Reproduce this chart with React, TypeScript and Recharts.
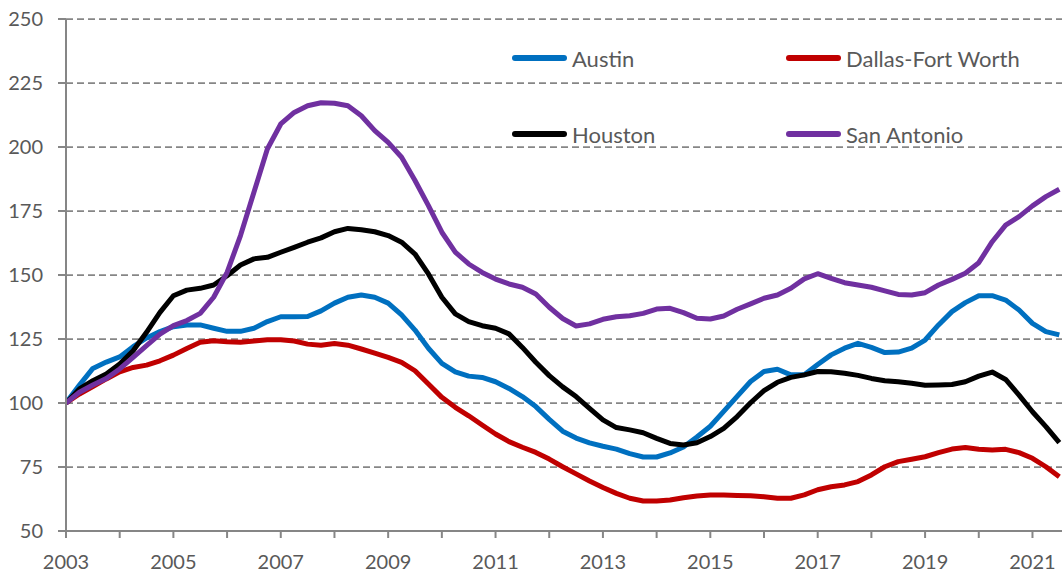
import React from 'react';
import { LineChart, Line, XAxis, YAxis, CartesianGrid } from 'recharts';

// quarterly index, 2003 Q1 = 100
const startYear = 2003;

const austin = [
  100, 107, 113.5, 116, 118, 122, 125.4, 127.9, 129.8, 130.5, 130.5, 129.2, 128, 128, 129.2, 131.8,
  133.7, 133.7, 133.8, 136, 139, 141.3, 142.2, 141.3, 139, 134.4, 128.5, 121.4, 115.5, 112.2, 110.5, 110,
  108.3, 105.7, 102.5, 98.6, 93.6, 89, 86.3, 84.4, 83.1, 82, 80.2, 78.9, 78.9, 80.5, 82.8, 86.7,
  90.9, 96.7, 102.6, 108.4, 112.3, 113.2, 111, 111, 115, 118.8, 121.4, 123.3, 121.7, 119.7, 119.9, 121.4,
  124.6, 130.5, 135.7, 139.2, 141.9, 141.9, 140.2, 136.3, 131.1, 127.9, 126.6,
];

const dallas = [
  100, 103.5, 106.4, 109.4, 112.2, 113.9, 114.8, 116.5, 118.7, 121.3, 123.7, 124.3, 123.9, 123.7, 124.2, 124.7,
  124.7, 124.2, 123, 122.6, 123.2, 122.6, 121.1, 119.5, 117.8, 115.9, 112.6, 107.4, 102.2, 98.3, 95, 91.4,
  87.9, 84.9, 82.7, 80.7, 78.1, 75.1, 72.3, 69.5, 67, 64.7, 62.8, 61.7, 61.7, 62.1, 63, 63.7,
  64.1, 64.1, 63.9, 63.8, 63.4, 62.8, 62.8, 64.1, 66.1, 67.3, 68, 69.3, 71.9, 75.1, 77.1, 78,
  79, 80.6, 82, 82.6, 81.9, 81.6, 81.9, 80.6, 78.4, 75.1, 71.2,
];

const houston = [
  100, 105.5, 108.7, 111.3, 115.2, 120.4, 127.6, 135.4, 141.9, 144.1, 144.8, 146.1, 149.7, 153.9, 156.3, 156.9,
  158.9, 160.8, 162.8, 164.5, 166.9, 168.2, 167.7, 166.9, 165.4, 162.8, 158.2, 150.4, 141.3, 134.8, 131.8, 130.2,
  129.2, 127, 121.7, 115.9, 110.7, 106.3, 102.5, 97.9, 93.4, 90.4, 89.5, 88.4, 86.2, 84.2, 83.6, 84.5,
  86.9, 90.1, 94.7, 100.1, 104.8, 108.1, 110, 111, 112.3, 112.2, 111.6, 110.8, 109.6, 108.7, 108.3, 107.7,
  106.9, 107, 107.2, 108.3, 110.5, 112.1, 109.2, 103.1, 96.6, 90.8, 84.5,
];

const sanAntonio = [
  100, 104.2, 107, 109.6, 113.3, 117.8, 122.4, 126.9, 130.2, 132.2, 135, 141.3, 151, 165.4, 182.3, 199.2,
  209, 213.5, 216.1, 217.3, 217.1, 216.1, 212.2, 206.4, 201.8, 196, 186.9, 177.1, 166.7, 158.9, 154.3, 151,
  148.4, 146.5, 145.2, 142.6, 137.4, 133, 130.1, 130.9, 132.7, 133.7, 134.1, 135, 136.7, 137, 135.3, 133.1,
  132.8, 134, 136.6, 138.7, 140.9, 142.2, 144.8, 148.5, 150.5, 148.7, 147, 146.1, 145.2, 143.8, 142.4, 142.2,
  143.1, 146.1, 148.3, 150.7, 154.8, 163, 169.5, 172.8, 177, 180.6, 183.5,
];

const yearTicks = [2003, 2004, 2005, 2006, 2007, 2008, 2009, 2010, 2011, 2012, 2013, 2014, 2015, 2016, 2017, 2018, 2019, 2020, 2021];
const valueTicks = [50, 75, 100, 125, 150, 175, 200, 225, 250];

const series = [
  { key: 'austin', name: 'Austin', color: '#0070C0' },
  { key: 'dallas', name: 'Dallas-Fort Worth', color: '#C00000' },
  { key: 'houston', name: 'Houston', color: '#000000' },
  { key: 'sanAntonio', name: 'San Antonio', color: '#7030A0' },
];

const data = austin.map((v, i) => ({
  t: startYear + i * 0.25,
  austin: v,
  dallas: dallas[i],
  houston: houston[i],
  sanAntonio: sanAntonio[i],
}));

const FONT = 'Lato, "Open Sans", sans-serif';
const TEXT = '#595959';
const AXIS = '#868686';

const YearTick = (props: any) => {
  const { x, y, payload } = props;
  if (payload.value % 2 === 0) return <g />;
  return (
    <text x={x} y={y + 29} textAnchor="middle" fill={TEXT} fontSize={20} fontFamily={FONT}>
      {payload.value}
    </text>
  );
};

// legend positions: two columns, two rows
const legendPos = [
  { left: 512, top: 58 },
  { left: 786, top: 58 },
  { left: 512, top: 134 },
  { left: 786, top: 134 },
];

export default function App() {
  return (
    <div style={{ position: 'absolute', left: 0, top: 0, width: 1062, height: 573, background: '#fff', overflow: 'hidden' }}>
      <LineChart width={1062} height={573} data={data} margin={{ top: 19, right: 0, left: 0, bottom: 0 }}>
        <CartesianGrid vertical={false} stroke={AXIS} strokeWidth={1.75} strokeDasharray="7 4" />
        <XAxis
          dataKey="t"
          type="number"
          domain={[2003, 2021.55]}
          ticks={yearTicks}
          allowDataOverflow
          height={42}
          tickSize={7}
          tickMargin={2}
          stroke={AXIS}
          strokeWidth={2}
          tick={<YearTick />}
          interval={0}
        />
        <YAxis
          domain={[50, 250]}
          ticks={valueTicks}
          width={66}
          tickSize={8}
          tickMargin={15}
          stroke={AXIS}
          strokeWidth={2}
          interval={0}
          tick={{ fill: TEXT, fontSize: 20, fontFamily: FONT }}
        />
        {series.map((s) => (
          <Line
            key={s.key}
            dataKey={s.key}
            name={s.name}
            type="linear"
            stroke={s.color}
            strokeWidth={5}
            strokeLinejoin="round"
            dot={false}
            isAnimationActive={false}
          />
        ))}
      </LineChart>
      {series.map((s, i) => (
        <div
          key={s.key}
          style={{
            position: 'absolute',
            left: legendPos[i].left,
            top: legendPos[i].top - 15,
            height: 30,
            display: 'flex',
            alignItems: 'center',
            fontFamily: FONT,
            fontSize: 22,
            color: TEXT,
            whiteSpace: 'nowrap',
          }}
        >
          <span style={{ display: 'inline-block', width: 55, height: 6, borderRadius: 3, background: s.color, marginRight: 5 }} />
          {s.name}
        </div>
      ))}
    </div>
  );
}
